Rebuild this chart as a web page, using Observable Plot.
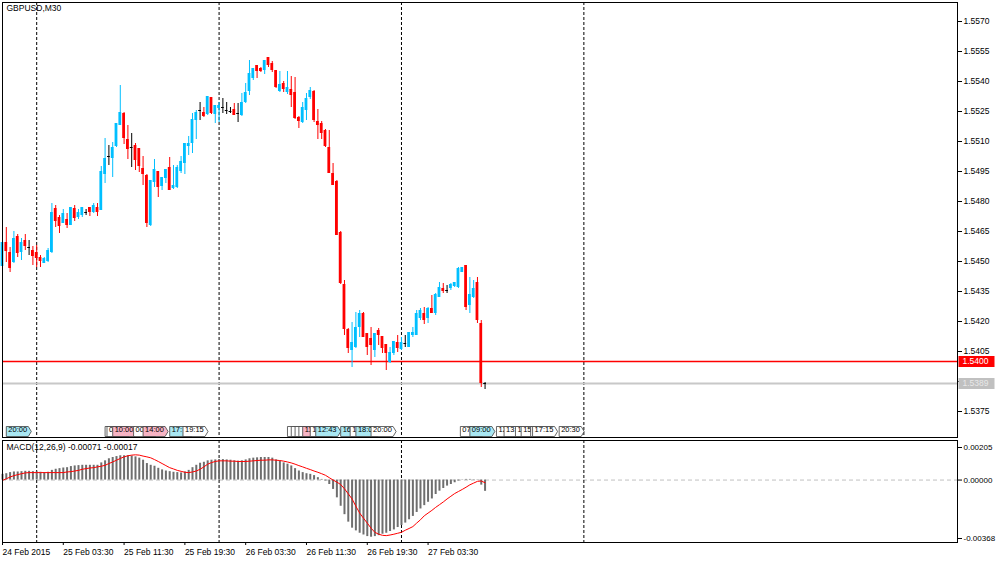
<!DOCTYPE html>
<html><head><meta charset="utf-8">
<script src="https://cdn.jsdelivr.net/npm/d3@7"></script>
<script src="https://cdn.jsdelivr.net/npm/@observablehq/plot@0.6"></script>
<style>
body{margin:0;background:#fff;}
#chart{position:relative;width:1000px;height:564px;overflow:hidden;}
#chart svg{position:absolute;left:0;}
</style></head><body><div id="chart"></div>
<script>
// ---------------- data ----------------
const chartTitle = "GBPUSD,M30";
const macdTitle = "MACD(12,26,9) -0.00071 -0.00017";
const firstBarTime = "2015-02-24T19:30Z";   // M30 bars, consecutive
const viewEndTime = "2015-03-02T01:10Z";
const open = [
1.54475,1.54595,1.54545,1.54495,1.54625,1.54545,1.54605,1.54570,1.54555,1.54545,
1.54520,1.54490,1.54500,1.54545,1.54765,1.54720,1.54690,1.54710,1.54680,1.54765,
1.54720,1.54730,1.54745,1.54770,1.54745,1.54770,1.54755,1.54935,1.55025,1.55015,
1.55075,1.55180,1.55240,1.55110,1.55070,1.55080,1.55065,1.54965,1.54930,1.54680,
1.54895,1.54950,1.54875,1.54915,1.54970,1.54865,1.54870,1.54950,1.54990,1.55075,
1.55090,1.55205,1.55255,1.55245,1.55235,1.55320,1.55235,1.55265,1.55270,1.55255,
1.55250,1.55260,1.55240,1.55230,1.55295,1.55350,1.55415,1.55480,1.55465,1.55455,
1.55520,1.55490,1.55455,1.55350,1.55390,1.55345,1.55360,1.55345,1.55220,1.55195,
1.55255,1.55320,1.55350,1.55200,1.55190,1.55155,1.55070,1.54940,1.54900,1.54645,
1.54385,1.54160,1.54055,1.54070,1.54170,1.54240,1.54140,1.54115,1.54055,1.54155,
1.54125,1.54085,1.53995,1.54040,1.54095,1.54060,1.54090,1.54070,1.54130,1.54130,
1.54215,1.54240,1.54215,1.54265,1.54240,1.54320,1.54365,1.54355,1.54365,1.54375,
1.54370,1.54445,1.54480,1.54280,1.54320,1.54395,1.54190,1.53890];
const high = [
1.54605,1.54670,1.54570,1.54650,1.54635,1.54615,1.54635,1.54605,1.54575,1.54580,
1.54530,1.54520,1.54565,1.54790,1.54780,1.54730,1.54760,1.54740,1.54770,1.54780,
1.54760,1.54770,1.54760,1.54770,1.54790,1.54790,1.54975,1.55115,1.55080,1.55095,
1.55190,1.55380,1.55245,1.55180,1.55140,1.55090,1.55065,1.55025,1.54935,1.54905,
1.55010,1.54950,1.54920,1.54960,1.55020,1.54980,1.54980,1.55025,1.55090,1.55125,
1.55240,1.55255,1.55295,1.55270,1.55325,1.55320,1.55280,1.55295,1.55315,1.55295,
1.55270,1.55290,1.55290,1.55340,1.55390,1.55505,1.55465,1.55480,1.55470,1.55505,
1.55520,1.55500,1.55455,1.55450,1.55400,1.55450,1.55425,1.55420,1.55225,1.55295,
1.55340,1.55370,1.55355,1.55260,1.55200,1.55160,1.55155,1.54990,1.54905,1.54650,
1.54405,1.54165,1.54195,1.54245,1.54255,1.54245,1.54140,1.54170,1.54140,1.54165,
1.54125,1.54085,1.54070,1.54100,1.54130,1.54120,1.54130,1.54145,1.54170,1.54255,
1.54265,1.54270,1.54270,1.54330,1.54340,1.54395,1.54390,1.54380,1.54390,1.54395,
1.54470,1.54470,1.54480,1.54420,1.54405,1.54420,1.54205,1.53895];
const low = [
1.54460,1.54495,1.54445,1.54490,1.54520,1.54505,1.54555,1.54530,1.54480,1.54470,
1.54470,1.54490,1.54495,1.54540,1.54670,1.54640,1.54690,1.54665,1.54680,1.54700,
1.54710,1.54720,1.54730,1.54725,1.54740,1.54725,1.54755,1.54890,1.54980,1.54920,
1.55070,1.55180,1.55085,1.55010,1.54970,1.54955,1.54945,1.54880,1.54670,1.54675,
1.54870,1.54820,1.54855,1.54890,1.54855,1.54860,1.54865,1.54940,1.54935,1.55030,
1.55040,1.55110,1.55205,1.55220,1.55230,1.55235,1.55190,1.55195,1.55240,1.55235,
1.55240,1.55230,1.55195,1.55225,1.55290,1.55330,1.55405,1.55415,1.55445,1.55435,
1.55470,1.55445,1.55365,1.55345,1.55345,1.55335,1.55270,1.55210,1.55165,1.55190,
1.55205,1.55310,1.55195,1.55110,1.55110,1.55070,1.54940,1.54880,1.54630,1.54385,
1.54130,1.54040,1.53970,1.54065,1.54120,1.54120,1.54030,1.53980,1.54020,1.54080,
1.54040,1.53955,1.53990,1.54030,1.54045,1.54055,1.54070,1.54070,1.54120,1.54130,
1.54205,1.54185,1.54190,1.54240,1.54230,1.54320,1.54340,1.54340,1.54355,1.54370,
1.54365,1.54445,1.54255,1.54240,1.54315,1.54190,1.53870,1.53860];
const close = [
1.54595,1.54550,1.54465,1.54615,1.54540,1.54595,1.54575,1.54570,1.54525,1.54515,
1.54500,1.54515,1.54555,1.54745,1.54700,1.54675,1.54740,1.54680,1.54770,1.54715,
1.54745,1.54770,1.54745,1.54745,1.54780,1.54745,1.54950,1.55015,1.55025,1.55070,
1.55190,1.55245,1.55115,1.55060,1.55070,1.55005,1.54975,1.54935,1.54690,1.54905,
1.54960,1.54870,1.54920,1.54960,1.54855,1.54880,1.54970,1.55000,1.55090,1.55090,
1.55210,1.55245,1.55255,1.55225,1.55325,1.55240,1.55280,1.55280,1.55270,1.55255,
1.55250,1.55230,1.55240,1.55295,1.55345,1.55440,1.55465,1.55450,1.55450,1.55505,
1.55480,1.55455,1.55370,1.55385,1.55360,1.55370,1.55330,1.55215,1.55200,1.55270,
1.55315,1.55355,1.55205,1.55180,1.55140,1.55075,1.54940,1.54880,1.54630,1.54390,
1.54160,1.54065,1.54095,1.54170,1.54240,1.54120,1.54070,1.54080,1.54140,1.54130,
1.54065,1.54040,1.54045,1.54100,1.54065,1.54095,1.54090,1.54145,1.54145,1.54240,
1.54255,1.54205,1.54265,1.54240,1.54335,1.54370,1.54350,1.54355,1.54385,1.54395,
1.54465,1.54470,1.54270,1.54335,1.54365,1.54205,1.53890,1.53890];
const macdMain = [
0.00036,0.00040,0.00047,0.00051,0.00051,0.00053,0.00055,0.00055,0.00053,0.00051,
0.00049,0.00047,0.00049,0.00061,0.00068,0.00072,0.00076,0.00078,0.00085,0.00089,
0.00091,0.00093,0.00093,0.00093,0.00093,0.00093,0.00108,0.00121,0.00134,0.00142,
0.00148,0.00153,0.00153,0.00153,0.00151,0.00146,0.00138,0.00125,0.00104,0.00093,
0.00087,0.00074,0.00064,0.00057,0.00053,0.00049,0.00047,0.00045,0.00051,0.00061,
0.00078,0.00093,0.00106,0.00112,0.00121,0.00125,0.00127,0.00129,0.00129,0.00127,
0.00125,0.00121,0.00119,0.00121,0.00127,0.00134,0.00138,0.00140,0.00142,0.00142,
0.00142,0.00138,0.00127,0.00117,0.00108,0.00100,0.00089,0.00072,0.00057,0.00047,
0.00040,0.00036,0.00028,0.00015,0.00004,-0.00006,-0.00028,-0.00059,-0.00112,-0.00165,
-0.00218,-0.00265,-0.00303,-0.00320,-0.00335,-0.00346,-0.00356,-0.00360,-0.00356,-0.00350,
-0.00341,-0.00335,-0.00324,-0.00314,-0.00299,-0.00286,-0.00271,-0.00250,-0.00229,-0.00204,
-0.00182,-0.00161,-0.00140,-0.00119,-0.00091,-0.00070,-0.00053,-0.00038,-0.00028,-0.00017,
-0.00006,0.00002,0.00004,0.00004,0.00002,-0.00002,-0.00032,-0.00071];
const macdSignal = [
-0.00002,0.00008,0.00019,0.00028,0.00034,0.00040,0.00045,0.00047,0.00047,0.00047,
0.00047,0.00047,0.00047,0.00047,0.00047,0.00047,0.00047,0.00051,0.00053,0.00057,
0.00061,0.00068,0.00072,0.00076,0.00078,0.00083,0.00087,0.00093,0.00104,0.00114,
0.00125,0.00136,0.00146,0.00153,0.00157,0.00159,0.00157,0.00151,0.00146,0.00140,
0.00129,0.00117,0.00104,0.00091,0.00078,0.00070,0.00061,0.00055,0.00049,0.00047,
0.00051,0.00057,0.00068,0.00083,0.00100,0.00110,0.00117,0.00121,0.00121,0.00121,
0.00119,0.00119,0.00117,0.00117,0.00117,0.00119,0.00121,0.00123,0.00125,0.00125,
0.00127,0.00127,0.00125,0.00123,0.00119,0.00114,0.00108,0.00100,0.00091,0.00083,
0.00074,0.00066,0.00057,0.00049,0.00040,0.00030,0.00015,0.00000,-0.00013,-0.00028,
-0.00055,-0.00087,-0.00119,-0.00165,-0.00208,-0.00240,-0.00271,-0.00303,-0.00329,-0.00341,
-0.00348,-0.00350,-0.00346,-0.00341,-0.00335,-0.00329,-0.00316,-0.00305,-0.00293,-0.00271,
-0.00250,-0.00225,-0.00208,-0.00191,-0.00172,-0.00155,-0.00138,-0.00119,-0.00102,-0.00085,
-0.00072,-0.00059,-0.00045,-0.00030,-0.00019,-0.00008,-0.00006,-0.00017];
const priceTicks = [1.5375,1.5390,1.5405,1.5420,1.5435,1.5450,1.5465,1.5480,1.5495,1.5510,1.5525,1.5540,1.5555,1.5570];
const macdTicks = [0.00205, 0, -0.00368];
const alertLevel = 1.5400;
const daySeparators = ["2015-02-25T00:00Z","2015-02-26T00:00Z","2015-02-27T00:00Z","2015-02-28T00:00Z"];
const timeTicks = ["2015-02-24T19:30Z","2015-02-25T03:30Z","2015-02-25T11:30Z","2015-02-25T19:30Z",
                   "2015-02-26T03:30Z","2015-02-26T11:30Z","2015-02-26T19:30Z","2015-02-27T03:30Z"];
// economic calendar events: time, label, importance
const eventTimes = ["2015-02-24T20:00Z",
  "2015-02-25T09:00Z","2015-02-25T09:15Z","2015-02-25T10:00Z","2015-02-25T12:45Z","2015-02-25T14:00Z","2015-02-25T17:30Z","2015-02-25T19:15Z",
  "2015-02-26T09:00Z","2015-02-26T09:30Z","2015-02-26T10:00Z","2015-02-26T10:30Z","2015-02-26T11:00Z","2015-02-26T12:00Z","2015-02-26T12:43Z","2015-02-26T16:00Z","2015-02-26T17:15Z","2015-02-26T18:00Z","2015-02-26T20:00Z",
  "2015-02-27T07:45Z","2015-02-27T09:00Z","2015-02-27T12:30Z","2015-02-27T13:30Z","2015-02-27T15:00Z","2015-02-27T15:45Z","2015-02-27T17:00Z","2015-02-27T17:15Z","2015-02-27T20:45Z"];
const eventLabels = ["20:00",
  "09:00","09:15","10:00","00:45","14:00","17:30","19:15",
  "09:00","09:30","10:00","10:30","11:00","12:00","12:43","16:00","17:15","18:00","20:00",
  "07:45","09:00","12:30","13:30","15:00","15:45","17:00","17:15","20:30"];
const eventImportance = ["mid",
  "low","low","high","low","high","mid","low",
  "low","low","low","low","high","low","mid","mid","low","mid","low",
  "low","mid","low","low","low","low","low","low","low"];

// ---------------- build ----------------
const M30 = 30 * 60 * 1000;
const t0 = new Date(firstBarTime);
const bars = open.map((o, i) => ({
  t: new Date(+t0 + i * M30), o, h: high[i], l: low[i], c: close[i],
  m: macdMain[i], s: macdSignal[i]
}));
const lastClose = close[close.length - 1];
const events = eventTimes.map((t, i) => ({t: new Date(t), label: eventLabels[i], imp: eventImportance[i]}));
const seps = daySeparators.map(d => new Date(d));
const xTicks = timeTicks.map(d => new Date(d));
const xDomain = [new Date(firstBarTime), new Date(viewEndTime)];

const UP = "#00bfff", DOWN = "#ff0000", DOJI = "#000000";
const candleColor = d => d.c > d.o ? UP : d.c < d.o ? DOWN : DOJI;
const halfBody = 11 * 60 * 1000;
const FONT = "'Liberation Sans', Arial, sans-serif";
const impFill = {high: "#f7b4c4", mid: "#a9e7f2", low: "#ffffff"};
const TAG_FONT = 7.5;
const W = 1000, ML = 2, MR = 43;
const pxPerMs = (W - ML - MR) / (xDomain[1] - xDomain[0]);

function boxSymbol(w, h) {
  return {draw(ctx) { ctx.moveTo(1, -h/2); ctx.lineTo(1 + w, -h/2); ctx.lineTo(1 + w, h/2); ctx.lineTo(1, h/2); ctx.closePath(); }};
}
function flagSymbol(w, h) {
  return {draw(ctx) { ctx.moveTo(0, -h/2); ctx.lineTo(w - 3, -h/2); ctx.lineTo(w, 0); ctx.lineTo(w - 3, h/2); ctx.lineTo(0, h/2); ctx.closePath(); }};
}
const p4 = d => d.toFixed(4);
const p5 = d => d.toFixed(5);
const fmtFirst = d3.utcFormat("%d %b %Y");
const fmtOther = d3.utcFormat("%d %b %H:%M");

const common = {
  width: W, marginLeft: ML, marginRight: MR,
  x: {type: "utc", domain: xDomain, axis: null},
  style: {fontFamily: FONT, fontSize: "8.5px", background: "white", overflow: "visible"}
};

// each later tag is drawn over the earlier one, so an earlier label only shows up to the next tag
const eventMarks = events.flatMap((e, i) => {
  const next = events[i + 1];
  const room = next ? (next.t - e.t) * pxPerMs + 1 : Infinity;
  const textOpts = {x: "t", frameAnchor: "bottom", dy: -6, dx: 2, text: "label", textAnchor: "start",
    fontSize: TAG_FONT, fill: "black"};
  if (room < 23) { textOpts.lineWidth = Math.max(room, 0.1) / TAG_FONT; textOpts.textOverflow = "clip"; }
  return [
    Plot.dot([e], {x: "t", frameAnchor: "bottom", dy: -6, r: 5, symbol: flagSymbol(25, 10),
      fill: impFill[e.imp], stroke: "#404040", strokeWidth: 0.8}),
    ...(room > 5 ? [Plot.text([e], textOpts)] : [])
  ];
});

const main = Plot.plot({
  ...common, height: 438, marginTop: 2, marginBottom: 1,
  y: {domain: [1.5362, 1.55795], axis: null},
  marks: [
    Plot.ruleX(seps, {stroke: "black", strokeDasharray: "3,2"}),
    Plot.ruleY([lastClose], {stroke: "#c8c8c8", strokeWidth: 2}),
    Plot.ruleY([alertLevel], {y: d => d, stroke: "red", strokeWidth: 1.5}),
    Plot.ruleX(bars, {x: "t", y1: "l", y2: "h", stroke: candleColor, strokeWidth: 1}),
    Plot.rect(bars.filter(d => d.o !== d.c), {
      x1: d => new Date(+d.t - halfBody), x2: d => new Date(+d.t + halfBody),
      y1: "o", y2: "c", fill: candleColor}),
    Plot.ruleY(bars.filter(d => d.o === d.c), {
      y: "o", x1: d => new Date(+d.t - halfBody), x2: d => new Date(+d.t + halfBody), stroke: DOJI}),
    ...eventMarks,
    Plot.axisY({anchor: "right", ticks: priceTicks, tickFormat: p4, tickSize: 4, tickPadding: 2, fontSize: 8.5, label: null}),
    Plot.dot([alertLevel], {y: d => d, frameAnchor: "right", r: 5, symbol: boxSymbol(36, 11), fill: "red"}),
    Plot.text([alertLevel], {y: d => d, frameAnchor: "right", dx: 5, textAnchor: "start", text: p4, fill: "white", fontSize: 8.5}),
    Plot.dot([lastClose], {y: d => d, frameAnchor: "right", r: 5, symbol: boxSymbol(36, 11), fill: "#c0c0c0"}),
    Plot.text([lastClose], {y: d => d, frameAnchor: "right", dx: 5, textAnchor: "start", text: p4, fill: "#e8e8e8", fontSize: 8.5}),
    Plot.frame({stroke: "black"}),
    Plot.text([chartTitle], {frameAnchor: "top-left", dx: 4, dy: 2, fontSize: 8.5, fill: "black"})
  ]
});

const sub = Plot.plot({
  ...common, height: 126, marginTop: 2, marginBottom: 22,
  y: {domain: [-0.003932, 0.002491], axis: null},
  marks: [
    Plot.ruleY([0], {stroke: "#c0c0c0", strokeDasharray: "4,3"}),
    Plot.ruleX(seps, {stroke: "black", strokeDasharray: "3,2"}),
    Plot.ruleX(bars, {x: "t", y1: 0, y2: "m", stroke: "#6e6e6e", strokeWidth: 2}),
    Plot.line(bars, {x: "t", y: "s", stroke: "red", strokeWidth: 1}),
    Plot.axisY({anchor: "right", ticks: macdTicks, tickFormat: p5, tickSize: 4, tickPadding: 2, fontSize: 8, label: null}),
    Plot.axisX({ticks: xTicks, tickFormat: (d, i) => i === 0 ? fmtFirst(d) : fmtOther(d),
      tickSize: 3, tickPadding: 3, textAnchor: "start", fontSize: 8.5, label: null}),
    Plot.frame({stroke: "black"}),
    Plot.text([macdTitle], {frameAnchor: "top-left", dx: 4, dy: 3, fontSize: 8.5, fill: "black"})
  ]
});

const root = document.getElementById("chart");
main.style.top = "0px";
sub.style.top = "438px";
root.appendChild(main);
root.appendChild(sub);
</script>
</body></html>
